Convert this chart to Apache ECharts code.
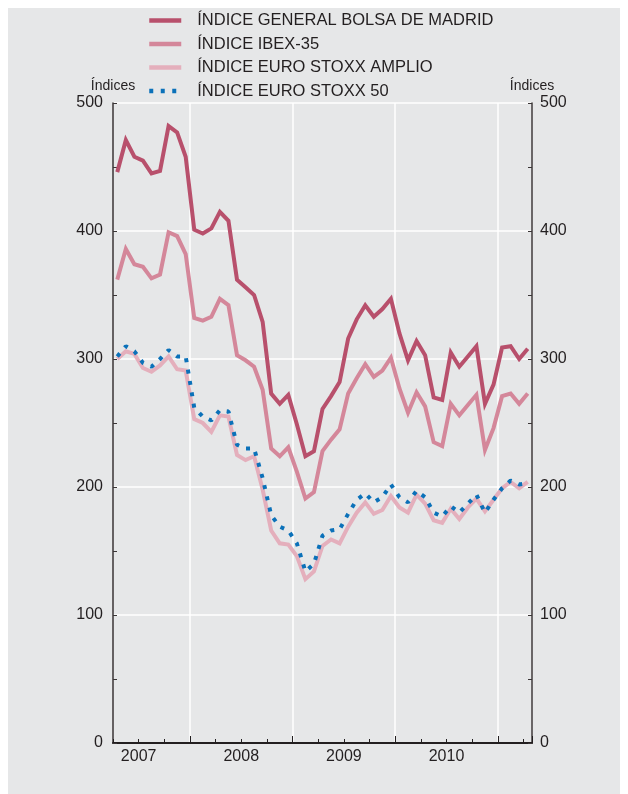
<!DOCTYPE html>
<html>
<head>
<meta charset="utf-8">
<script src="https://cdn.jsdelivr.net/npm/echarts@6/dist/echarts.min.js"></script>
<style>
  html, body { margin: 0; padding: 0; background: #ffffff; }
  #frame { position: absolute; left: 8px; top: 8px; width: 612px; height: 786px; background: #e6e7e8; }
  #chart { position: absolute; left: 0; top: 0; width: 628px; height: 794px; }
</style>
</head>
<body>
<div id="frame"></div>
<div id="chart"></div>
<script>
// Monthly categories, April 2007 to April 2011
const months = [
  '2007-04','2007-05','2007-06','2007-07','2007-08','2007-09','2007-10','2007-11','2007-12',
  '2008-01','2008-02','2008-03','2008-04','2008-05','2008-06','2008-07','2008-08','2008-09','2008-10','2008-11','2008-12',
  '2009-01','2009-02','2009-03','2009-04','2009-05','2009-06','2009-07','2009-08','2009-09','2009-10','2009-11','2009-12',
  '2010-01','2010-02','2010-03','2010-04','2010-05','2010-06','2010-07','2010-08','2010-09','2010-10','2010-11','2010-12',
  '2011-01','2011-02','2011-03','2011-04'
];
const yearLabels = ['2007', '2008', '2009', '2010'];

const generalMadrid = [446,471,458,455,445,447,482,477,458,
  401,398,402,415,408,362,356,350,329,273,265,272,
  249,224,228,261,271,282,316,331,342,333,339,347,
  320,299,314,303,270,268,305,294,302,310,265,280,
  309,310,300,308];
const ibex35 = [362,386,374,372,363,366,399,396,382,
  332,330,333,347,342,303,299,294,276,230,224,231,
  212,191,196,228,237,245,273,285,296,286,291,301,
  277,258,274,263,235,232,265,256,264,272,229,246,
  271,273,265,273];
const euroStoxxAmplio = [300,306,304,293,290,295,302,292,291,
  253,250,243,256,255,225,221,224,198,166,156,155,
  146,128,134,154,159,156,169,180,188,179,182,193,
  184,180,194,187,174,172,183,175,184,191,181,190,
  199,204,199,204];
const euroStoxx50 = [302,310,306,297,294,300,307,302,302,
  262,255,252,260,259,233,230,230,207,178,169,166,
  156,134,140,162,166,167,179,190,195,188,192,202,
  192,188,197,192,180,177,185,180,187,194,180,190,
  199,205,202,203];

const seriesNames = ['ÍNDICE GENERAL BOLSA DE MADRID', 'ÍNDICE IBEX-35', 'ÍNDICE EURO STOXX AMPLIO', 'ÍNDICE EURO STOXX 50'];
const axisName = 'Índices';

const FONT = "'Liberation Sans', Arial, Helvetica, sans-serif";
const TXT = '#231f20';

const chart = echarts.init(document.getElementById('chart'), null, { renderer: 'canvas' });

const yAxisCommon = {
  type: 'value', min: 0, max: 500, interval: 100,
  name: axisName, nameLocation: 'end', nameGap: 10,
  nameTextStyle: { fontFamily: FONT, fontSize: 14, color: TXT },
  axisLine: { show: true, lineStyle: { color: '#3a3536', width: 1.5 } },
  axisTick: { show: true, inside: true, length: 4, lineStyle: { color: '#3a3536', width: 1 } },
  minorTick: { show: true, splitNumber: 2, length: 4, lineStyle: { color: '#3a3536', width: 1 } },
  axisLabel: { fontFamily: FONT, fontSize: 16, color: TXT }
};

const option = {
  backgroundColor: 'transparent',
  animation: false,
  textStyle: { fontFamily: FONT },
  legend: {
    orient: 'vertical', left: 147, top: 12, padding: 0,
    itemWidth: 32, itemHeight: 14, itemGap: 6.5,
    itemStyle: { opacity: 0 },
    lineStyle: { width: 4.5 },
    textStyle: { fontFamily: FONT, fontSize: 16.5, color: TXT, lineHeight: 14, padding: [0, 0, 0, 11] },
    data: seriesNames
  },
  grid: { left: 113, right: 96, top: 103, bottom: 51, containLabel: false },
  xAxis: [
    {
      type: 'category', data: months, boundaryGap: true, position: 'bottom',
      axisLine: { show: true, lineStyle: { color: '#231f20', width: 2 } },
      axisTick: { show: true, inside: true, length: 7, interval: (i) => i % 12 === 9, lineStyle: { color: '#231f20', width: 1 } },
      axisLabel: { show: false },
      splitLine: { show: true, interval: (i) => i % 12 === 9, lineStyle: { color: '#ffffff', width: 1.5 } }
    },
    {
      type: 'value', min: 0, max: 49, interval: 3, position: 'bottom',
      axisLine: { show: false },
      axisTick: { show: true, inside: true, length: 4, lineStyle: { color: '#231f20', width: 1 } },
      splitLine: { show: false },
      axisLabel: {
        fontFamily: FONT, fontSize: 16, color: TXT, margin: 6,
        formatter: (v) => (v % 12 === 3 ? yearLabels[(v - 3) / 12] : '')
      }
    }
  ],
  yAxis: [
    Object.assign({}, yAxisCommon, {
      position: 'left',
      axisLabel: Object.assign({}, yAxisCommon.axisLabel, { margin: 10 }),
      splitLine: { show: true, lineStyle: { color: '#ffffff', width: 1.5 } }
    }),
    Object.assign({}, yAxisCommon, {
      position: 'right',
      axisLabel: Object.assign({}, yAxisCommon.axisLabel, { margin: 8 }),
      splitLine: { show: false }
    })
  ],
  series: [
    { name: seriesNames[0], type: 'line', data: generalMadrid, symbol: 'none', xAxisIndex: 0, yAxisIndex: 0,
      lineStyle: { color: '#b8506c', width: 4, join: 'miter' }, itemStyle: { color: '#b8506c' } },
    { name: seriesNames[1], type: 'line', data: ibex35, symbol: 'none', xAxisIndex: 0, yAxisIndex: 0,
      lineStyle: { color: '#d4879a', width: 4, join: 'miter' }, itemStyle: { color: '#d4879a' } },
    { name: seriesNames[2], type: 'line', data: euroStoxxAmplio, symbol: 'none', xAxisIndex: 0, yAxisIndex: 0,
      lineStyle: { color: '#e4afbc', width: 4, join: 'miter' }, itemStyle: { color: '#e4afbc' } },
    { name: seriesNames[3], type: 'line', data: euroStoxx50, symbol: 'none', xAxisIndex: 0, yAxisIndex: 0,
      lineStyle: { color: '#0b71b9', width: 4, type: [4, 7.5], cap: 'butt' }, itemStyle: { color: '#0b71b9' } }
  ]
};
chart.setOption(option);
</script>
</body>
</html>
